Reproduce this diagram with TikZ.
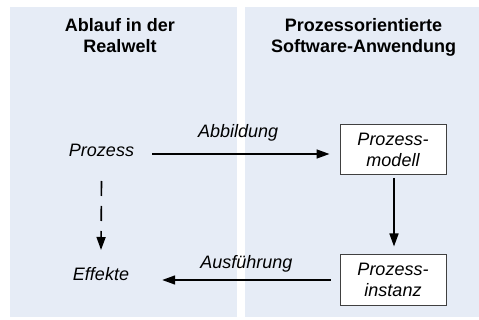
\documentclass[tikz,border=0pt]{standalone}
\usepackage{fontspec}
\setmainfont{Liberation Sans}
\usetikzlibrary{arrows.meta,calc}
\definecolor{panelblue}{HTML}{E6ECF6}
\definecolor{boxgray}{HTML}{404040}
\tikzset{
  panel/.style={fill=panelblue, draw=none},
  titletext/.style={font=\fontsize{18}{21}\selectfont\bfseries, align=center, inner sep=0pt, anchor=base},
  itext/.style={font=\fontsize{18}{21}\selectfont\itshape, inner sep=0pt, anchor=base},
  procbox/.style={draw=boxgray, line width=1pt, fill=white, minimum width=106pt, minimum height=50pt, inner sep=0pt, align=center, font=\fontsize{18}{21}\selectfont\itshape},
  arr/.style={line width=1.6pt, -{Triangle[length=13pt,width=9pt]}},
  dasharr/.style={arr, dash pattern=on 15pt off 10pt}
}
\begin{document}
\begin{tikzpicture}[x=1pt,y=-1pt]
\useasboundingbox (0,0) rectangle (479,320);
\fill[white] (0,0) rectangle (479,320);
\path[panel] (10,7) rectangle (237,317);
\path[panel] (245,7) rectangle (479,317);
\node[titletext] (t1) at (120,53) {Ablauf in der\\Realwelt};
\node[titletext] (t2) at (363.5,53) {Prozessorientierte\\Software-Anwendung};
\node[itext] (p) at (101.5,157) {Prozess};
\node[itext] (e) at (101,280) {Effekte};
\node[procbox] (m) at (393,149.5) {Prozess-\\modell};
\node[procbox] (i) at (393,280) {Prozess-\\instanz};
\draw[arr] ($(p.base east)+(18,-3)$) -- node[itext, pos=0.485, yshift=16pt] (l1) {Abbildung} ($(m.west)+(-10,4.5)$);
\draw[arr] ($(m.south)+(1,3)$) -- ($(i.north)+(1,-8)$);
\draw[arr] ($(i.west)+(-9,0)$) -- node[itext, pos=0.5, yshift=11pt] (l2) {Ausführung} ($(e.base east)+(33,0)$);
\draw[dasharr] ($(p.base)+(0,24)$) -- ($(e.base)+(0,-30)$);
\end{tikzpicture}
\end{document}
